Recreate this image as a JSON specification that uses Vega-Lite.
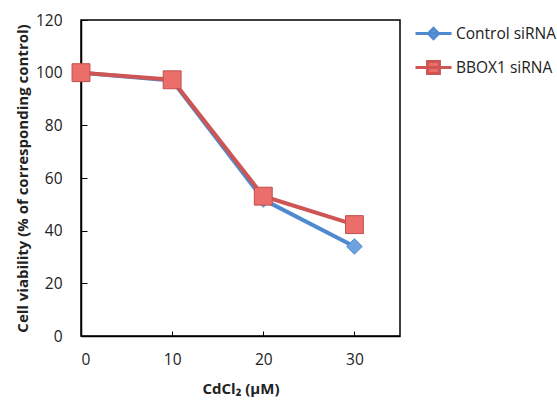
{
  "$schema": "https://vega.github.io/schema/vega-lite/v6.json",
  "width": 319,
  "height": 316,
  "autosize": {"type": "none"},
  "padding": {"left": 81, "top": 20, "right": 157, "bottom": 64},
  "background": "white",
  "config": {
    "view": {"stroke": "black", "strokeWidth": 1.5},
    "axis": {
      "labelFont": "Open Sans", "labelFontSize": 15.5, "labelColor": "#222",
      "titleFont": "Open Sans", "titleFontSize": 15, "titleFontWeight": "bold", "titleColor": "#222",
      "domainColor": "black", "domainWidth": 1.5, "tickColor": "black", "grid": false
    }
  },
  "data": {
    "values": [
      {"dose": 0, "viability": 100, "series": "Control siRNA"},
      {"dose": 10, "viability": 97, "series": "Control siRNA"},
      {"dose": 20, "viability": 51.8, "series": "Control siRNA"},
      {"dose": 30, "viability": 34, "series": "Control siRNA"},
      {"dose": 0, "viability": 100, "series": "BBOX1 siRNA"},
      {"dose": 10, "viability": 97.3, "series": "BBOX1 siRNA"},
      {"dose": 20, "viability": 53.1, "series": "BBOX1 siRNA"},
      {"dose": 30, "viability": 42.3, "series": "BBOX1 siRNA"}
    ]
  },
  "encoding": {
    "x": {
      "field": "dose", "type": "quantitative",
      "scale": {"domain": [0, 35], "nice": false},
      "axis": {"values": [0, 10, 20, 30], "title": "CdCl₂ (µM)", "tickSize": -5, "labelPadding": 21, "titlePadding": 14}
    },
    "y": {
      "field": "viability", "type": "quantitative",
      "scale": {"domain": [0, 120], "nice": false},
      "axis": {"values": [0, 20, 40, 60, 80, 100, 120], "title": "Cell viability (% of corresponding control)", "tickSize": -6, "labelPadding": 25, "titlePadding": 5}
    }
  },
  "layer": [
    {
      "mark": {"type": "line", "strokeWidth": 4},
      "encoding": {
        "color": {
          "field": "series", "type": "nominal",
          "scale": {"domain": ["Control siRNA", "BBOX1 siRNA"], "range": ["#4F89CF", "#CD5553"]},
          "legend": {
            "title": null, "orient": "none", "legendX": 333, "legendY": -6,
            "padding": 0, "rowPadding": 3, "labelOffset": 3,
            "labelFont": "Open Sans", "labelFontSize": 15.5, "labelColor": "#222",
            "symbolSize": 1296, "symbolStrokeWidth": 3,
            "encode": {
              "symbols": {
                "update": {
                  "shape": {"signal": "datum.value === 'Control siRNA' ? 'M-1,0H1M0,-0.28L0.28,0L0,0.28L-0.28,0Z' : 'M-1,0H1M-0.33,-0.33H0.33V0.33H-0.33Z'"},
                  "stroke": {"signal": "datum.value === 'Control siRNA' ? '#4F89CF' : '#CD5553'"},
                  "fill": {"signal": "datum.value === 'Control siRNA' ? '#6FA3E0' : '#EC6E6B'"},
                  "fillOpacity": {"value": 1},
                  "strokeWidth": {"value": 3}
                }
              }
            }
          }
        },
        "order": {"field": "dose"}
      }
    },
    {
      "transform": [{"filter": "datum.series === 'Control siRNA'"}],
      "mark": {"type": "point", "shape": "diamond", "size": 240, "filled": true, "fill": "#6FA3E0", "stroke": "#4F89CF", "strokeWidth": 1, "opacity": 1}
    },
    {
      "transform": [{"filter": "datum.series === 'BBOX1 siRNA'"}],
      "mark": {"type": "point", "shape": "square", "size": 320, "filled": true, "fill": "#EC6E6B", "stroke": "#C0504D", "strokeWidth": 1, "opacity": 1}
    }
  ]
}
